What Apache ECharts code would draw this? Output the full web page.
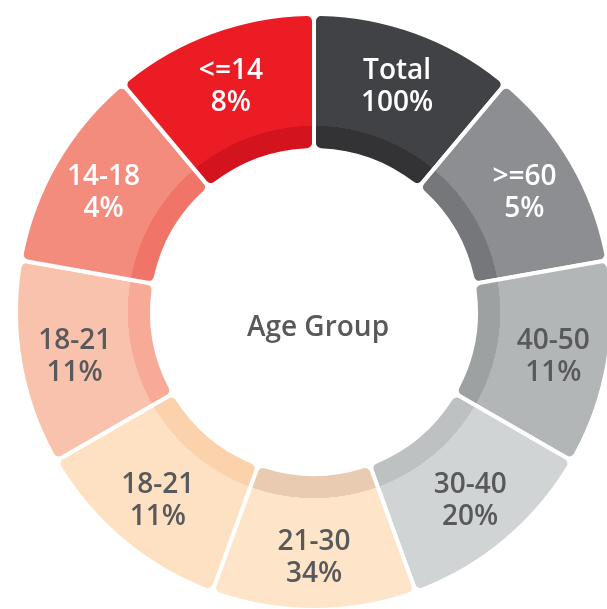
<!DOCTYPE html>
<html>
<head>
<meta charset="utf-8">
<script src="https://cdn.jsdelivr.net/npm/echarts@6/dist/echarts.min.js"></script>
<style>
  html, body { margin: 0; padding: 0; background: #fff; }
  #main { width: 607px; height: 609px; }
</style>
</head>
<body>
<div id="main"></div>
<script>
  // slices clockwise from 12 o'clock
  const groups = ['Total', '>=60', '40-50', '30-40', '21-30', '18-21', '18-21', '14-18', '<=14'];
  const shares = [100, 5, 11, 20, 34, 11, 11, 4, 8];
  const segmentSize = [1, 1, 1, 1, 1, 1, 1, 1, 1]; // all segments drawn the same size
  const outerColors = ['#414245', '#8d8e91', '#b2b6b6', '#d1d4d5', '#fee5c9', '#fee1c2', '#f9c2ad', '#f48c7e', '#ec1c24'];
  const bandColors = ['#333335', '#75777a', '#9ea1a1', '#bdc1c2', '#e8cbb0', '#fbd2ab', '#f7aa95', '#f07467', '#d3131d'];
  const labelColors = ['#fff', '#fff', '#58595b', '#58595b', '#58595b', '#58595b', '#58595b', '#fff', '#fff'];

  const cx = 314, cy = 312;
  const rIn = 162, rBand = 186, rOut = 298;
  const cut = rBand / rOut;

  // ring colour with a darker inner band, done as a hard-stop radial gradient
  function ringColor(light, dark) {
    return {
      type: 'radial', x: cx, y: cy, r: rOut, global: true,
      colorStops: [
        { offset: 0, color: dark },
        { offset: cut, color: dark },
        { offset: cut + 0.001, color: light },
        { offset: 1, color: light }
      ]
    };
  }

  const ringData = groups.map((g, i) => ({
    name: g,
    value: segmentSize[i],
    itemStyle: { color: ringColor(outerColors[i], bandColors[i]) }
  }));

  const labelData = groups.map((g, i) => ({
    name: g,
    value: segmentSize[i],
    share: shares[i],
    label: { color: labelColors[i] }
  }));

  const chart = echarts.init(document.getElementById('main'));
  chart.setOption({
    animation: false,
    graphic: [{
      type: 'text',
      position: [318, 328],
      style: {
        text: 'Age Group',
        x: 0, y: 0,
        align: 'center',
        verticalAlign: 'middle',
        fill: '#58595b',
        font: '600 28px "Open Sans"'
      }
    }],
    series: [
      {
        type: 'pie',
        center: [cx, cy],
        radius: [rIn, rOut],
        startAngle: 90,
        clockwise: true,
        silent: true,
        avoidLabelOverlap: false,
        itemStyle: { borderColor: '#fff', borderWidth: 4, borderRadius: 7 },
        label: { show: false },
        labelLine: { show: false },
        emphasis: { disabled: true },
        data: ringData
      },
      {
        // transparent copy only for placing labels in the outer part
        type: 'pie',
        center: [cx, cy + 3],
        radius: [182, rOut],
        startAngle: 90,
        clockwise: true,
        silent: true,
        avoidLabelOverlap: false,
        itemStyle: { color: 'rgba(0,0,0,0)' },
        label: {
          show: true,
          position: 'inside',
          fontFamily: 'Open Sans',
          fontWeight: 600,
          fontSize: 28,
          lineHeight: 32,
          formatter: p => p.name + '\n' + p.data.share + '%'
        },
        labelLine: { show: false },
        emphasis: { disabled: true },
        data: labelData
      }
    ]
  });
</script>
</body>
</html>
